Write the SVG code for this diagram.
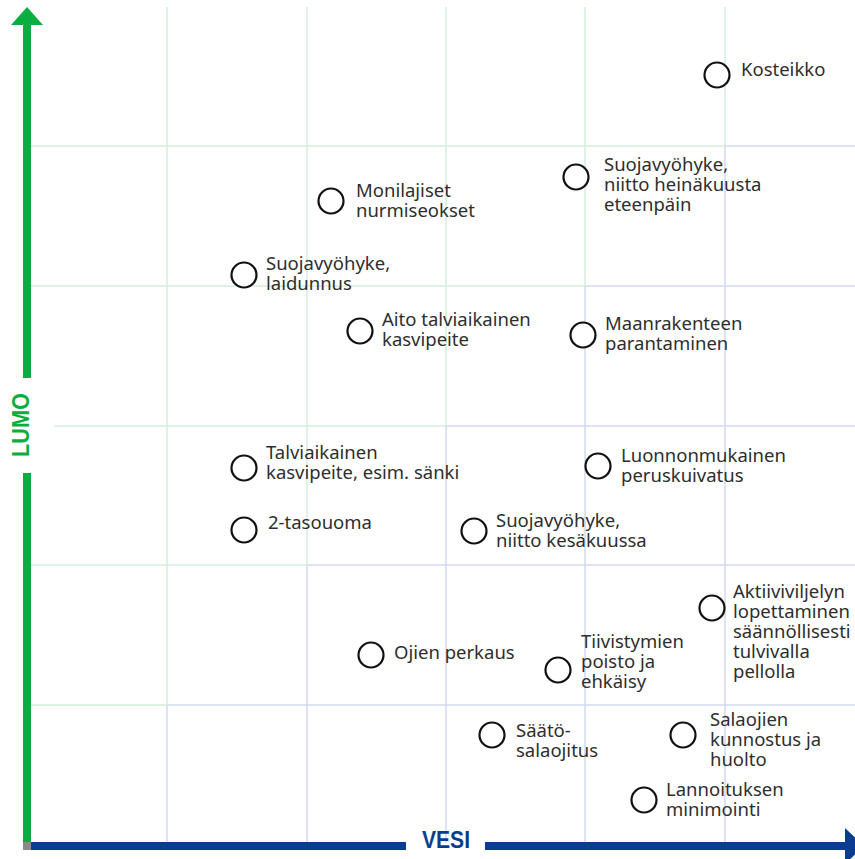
<svg xmlns="http://www.w3.org/2000/svg" width="855" height="859" viewBox="0 0 855 859">
<style>
.g{stroke:#d2efda;stroke-width:1.5;fill:none}
.b{stroke:#d3daf0;stroke-width:1.5;fill:none}
.dot{fill:#fff;stroke:#111;stroke-width:2.2}
.t{font-family:"Noto Sans","Liberation Sans",sans-serif;font-size:18.5px;fill:#2e2e2e}
.ax{font-family:"Liberation Sans Narrow","Liberation Sans",sans-serif;font-weight:bold;font-size:23px}
</style>
<rect width="855" height="859" fill="#fff"/>
<g id="grid">
<path class="g" d="M31 146H725M31 286H585M54 426H446M31 565H307M31 705H167"/>
<path class="b" d="M725 146H855M585 286H855M446 426H855M307 565H855M167 705H855"/>
<path class="g" d="M167 7V705M307 7V565M446 7V426M585 7V286M725 7V146"/>
<path class="b" d="M167 705V843M307 565V843M446 426V843M585 286V843M725 146V843"/>
</g>
<g id="axes">
<path d="M27 25V378M27 473V842" stroke="#0aad3f" stroke-width="8"/>
<polygon points="11,25 43,25 27,7" fill="#0aad3f"/>
<text class="ax" fill="#0aad3f" transform="translate(28.5,425) rotate(-90)" text-anchor="middle" textLength="64" lengthAdjust="spacingAndGlyphs">LUMO</text>
<path d="M31 846H406M485 846H846" stroke="#0a3d8f" stroke-width="8"/>
<polygon points="845,828 845,864 864,846" fill="#0a3d8f"/>
<rect x="23" y="842" width="8" height="8" fill="#8a8a8a"/>
<text class="ax" fill="#0a3d8f" x="446" y="848" text-anchor="middle" textLength="48" lengthAdjust="spacingAndGlyphs">VESI</text>
</g>
<g id="n1"><circle class="dot" cx="717" cy="75" r="12.5"/><text class="t" x="741" y="76">Kosteikko</text></g>
<g id="n2"><circle class="dot" cx="576" cy="177" r="12.5"/><text class="t"><tspan x="604" y="171">Suojavyöhyke,</tspan><tspan x="604" y="191">niitto heinäkuusta</tspan><tspan x="604" y="211">eteenpäin</tspan></text></g>
<g id="n3"><circle class="dot" cx="331" cy="201" r="12.5"/><text class="t"><tspan x="356" y="197">Monilajiset</tspan><tspan x="356" y="217">nurmiseokset</tspan></text></g>
<g id="n4"><circle class="dot" cx="244" cy="275" r="12.5"/><text class="t"><tspan x="266" y="270">Suojavyöhyke,</tspan><tspan x="266" y="290">laidunnus</tspan></text></g>
<g id="n5"><circle class="dot" cx="360" cy="331" r="12.5"/><text class="t"><tspan x="382" y="326">Aito talviaikainen</tspan><tspan x="382" y="346">kasvipeite</tspan></text></g>
<g id="n6"><circle class="dot" cx="583" cy="335" r="12.5"/><text class="t"><tspan x="605" y="330">Maanrakenteen</tspan><tspan x="605" y="350">parantaminen</tspan></text></g>
<g id="n7"><circle class="dot" cx="244" cy="468" r="12.5"/><text class="t"><tspan x="266" y="459">Talviaikainen</tspan><tspan x="266" y="479">kasvipeite, esim. sänki</tspan></text></g>
<g id="n8"><circle class="dot" cx="598" cy="466" r="12.5"/><text class="t"><tspan x="621" y="462">Luonnonmukainen</tspan><tspan x="621" y="482">peruskuivatus</tspan></text></g>
<g id="n9"><circle class="dot" cx="244" cy="530" r="12.5"/><text class="t" x="268" y="529">2-tasouoma</text></g>
<g id="n10"><circle class="dot" cx="474" cy="531" r="12.5"/><text class="t"><tspan x="496" y="527">Suojavyöhyke,</tspan><tspan x="496" y="547">niitto kesäkuussa</tspan></text></g>
<g id="n11"><circle class="dot" cx="712" cy="608" r="12.5"/><text class="t"><tspan x="733" y="598">Aktiiviviljelyn</tspan><tspan x="733" y="618">lopettaminen</tspan><tspan x="733" y="638">säännöllisesti</tspan><tspan x="733" y="658">tulvivalla</tspan><tspan x="733" y="678">pellolla</tspan></text></g>
<g id="n12"><circle class="dot" cx="371" cy="655" r="12.5"/><text class="t" x="394" y="659">Ojien perkaus</text></g>
<g id="n13"><circle class="dot" cx="558" cy="670" r="12.5"/><text class="t"><tspan x="581" y="648">Tiivistymien</tspan><tspan x="581" y="668">poisto ja</tspan><tspan x="581" y="688">ehkäisy</tspan></text></g>
<g id="n14"><circle class="dot" cx="492" cy="735" r="12.5"/><text class="t"><tspan x="516" y="737">Säätö-</tspan><tspan x="516" y="757">salaojitus</tspan></text></g>
<g id="n15"><circle class="dot" cx="683" cy="735" r="12.5"/><text class="t"><tspan x="710" y="726">Salaojien</tspan><tspan x="710" y="746">kunnostus ja</tspan><tspan x="710" y="766">huolto</tspan></text></g>
<g id="n16"><circle class="dot" cx="644" cy="800" r="12.5"/><text class="t"><tspan x="666" y="796">Lannoituksen</tspan><tspan x="666" y="816">minimointi</tspan></text></g>
</svg>
